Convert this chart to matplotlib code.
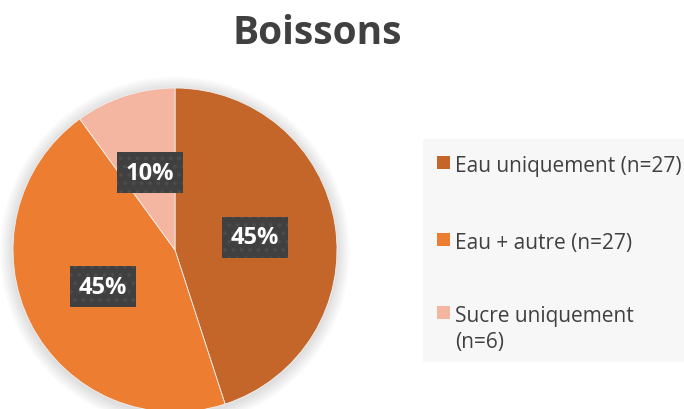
import numpy as np
import matplotlib.pyplot as plt
from matplotlib.patches import Rectangle, Circle

plt.rcParams['font.family'] = ['Open Sans', 'DejaVu Sans']
plt.rcParams['hatch.linewidth'] = 1.5

labels = ["Eau uniquement (n=27)", "Eau + autre (n=27)", "Sucre uniquement\n(n=6)"]
counts = [27, 27, 6]
colors = ["#C4652A", "#ED7D31", "#F4B6A0"]
title = "Boissons"

W, H = 684, 410
fig = plt.figure(figsize=(W / 100, H / 100), dpi=100)
fig.patch.set_facecolor("white")

# pie area: centre (175, 251) px, radius 162 px
cx, cy, r = 175, 251, 162
ax = fig.add_axes([(cx - r) / W, (H - cy - r) / H, 2 * r / W, 2 * r / H])

# soft shadow
for k in range(8):
    ax.add_patch(Circle((0.0, -0.01), 1 + 0.01 * (k + 1), color="black",
                        alpha=0.014, lw=0, zorder=0, clip_on=False))

wedges, texts = ax.pie(counts, colors=colors, startangle=90, counterclock=False,
                       radius=1, wedgeprops=dict(lw=0.6, edgecolor="#f0f0f0"))
for w in wedges:
    w.set_clip_on(False)
ax.set_xlim(-1, 1)
ax.set_ylim(-1, 1)
ax.set_aspect("equal")
ax.axis("off")

total = sum(counts)
for w, c in zip(wedges, counts):
    mid = np.deg2rad((w.theta1 + w.theta2) / 2)
    x, y = 0.5 * np.cos(mid), 0.5 * np.sin(mid)
    pct = "{:.0f}%".format(100 * c / total)
    ax.text(x, y, pct, ha="center", va="center", color="white", fontsize=17,
            fontweight="bold", zorder=5,
            bbox=dict(boxstyle="square,pad=0.36", fc="#404040", ec="#4c4c4c",
                      lw=0, hatch=".."))

fig.text(317 / W, 1 - 33 / H, title, ha="center", va="center", fontsize=28,
         fontweight="bold", color="#404040")

# legend
fig.patches.append(Rectangle((423 / W, 1 - 363 / H), (W - 423) / W, 223 / H,
                             transform=fig.transFigure, fc="#f7f7f7", ec="none"))
ys = [163, 240, 313]
for lab, col, y in zip(labels, colors, ys):
    fig.patches.append(Rectangle((437 / W, 1 - (y + 6.5) / H), 13 / W, 13 / H,
                                 transform=fig.transFigure, fc=col, ec="none"))
    fig.text(455 / W, 1 - (y - 7) / H, lab, ha="left", va="top", fontsize=15,
             color="#404040", linespacing=1.3)

fig.savefig("out.png", dpi=100)
